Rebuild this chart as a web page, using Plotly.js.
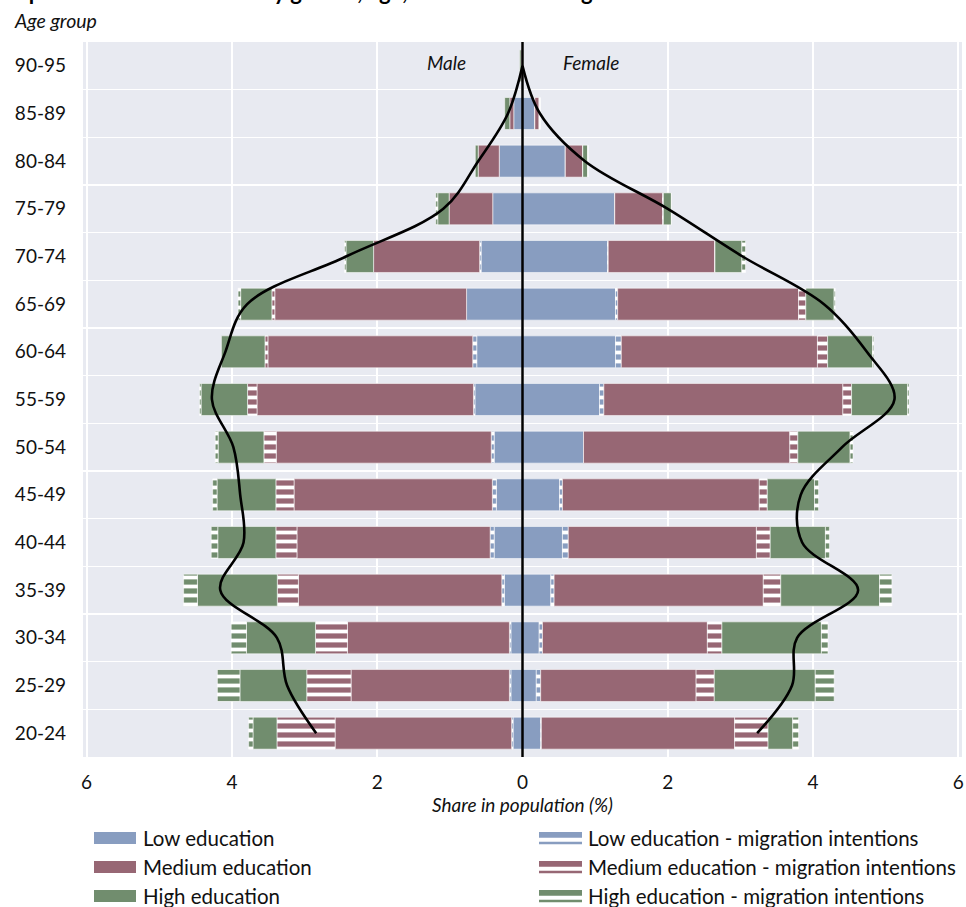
<!DOCTYPE html>
<html>
<head>
<meta charset="utf-8">
<script src="https://cdn.plot.ly/plotly-3.0.1.min.js"></script>
<style>html,body{margin:0;padding:0;background:#fff;}#chart{width:966px;height:907px;}</style>
</head>
<body>
<div id="chart"></div>
<script>
// ---- Data (bottom to top) ----
const ages = ['20-24','25-29','30-34','35-39','40-44','45-49','50-54','55-59','60-64','65-69','70-74','75-79','80-84','85-89','90-95'];

const maleLow     = [0.13, 0.16, 0.16, 0.25, 0.39, 0.36, 0.39, 0.655, 0.63, 0.77, 0.57, 0.41, 0.32, 0.12, 0];
const maleLowMig  = [0.02, 0.02, 0.02, 0.035, 0.055, 0.055, 0.04, 0.02, 0.055, 0, 0.02, 0, 0, 0, 0];
const maleMed     = [2.43, 2.18, 2.23, 2.80, 2.66, 2.73, 2.96, 2.98, 2.82, 2.64, 1.46, 0.60, 0.29, 0.055, 0.02];
const maleMedMig  = [0.80, 0.61, 0.44, 0.29, 0.29, 0.25, 0.17, 0.13, 0.04, 0.04, 0, 0, 0, 0, 0];
const maleHigh    = [0.33, 0.92, 0.95, 1.10, 0.80, 0.81, 0.63, 0.64, 0.60, 0.43, 0.38, 0.157, 0.04, 0.07, 0.02];
const maleHighMig = [0.06, 0.31, 0.21, 0.19, 0.09, 0.06, 0.04, 0.02, 0, 0.035, 0.02, 0.027, 0, 0, 0];

const femaleLow     = [0.25, 0.19, 0.23, 0.39, 0.55, 0.51, 0.84, 1.06, 1.28, 1.28, 1.17, 1.27, 0.59, 0.17, 0];
const femaleLowMig  = [0.01, 0.06, 0.045, 0.045, 0.08, 0.04, 0, 0.06, 0.08, 0.03, 0.01, 0, 0, 0, 0];
const femaleMed     = [2.66, 2.14, 2.27, 2.88, 2.59, 2.71, 2.84, 3.29, 2.70, 2.49, 1.47, 0.66, 0.24, 0.06, 0];
const femaleMedMig  = [0.46, 0.25, 0.20, 0.24, 0.19, 0.11, 0.11, 0.12, 0.14, 0.10, 0, 0.01, 0, 0.01, 0];
const femaleHigh    = [0.34, 1.39, 1.37, 1.36, 0.76, 0.65, 0.72, 0.77, 0.62, 0.39, 0.37, 0.11, 0.07, 0, 0];
const femaleHighMig = [0.08, 0.26, 0.09, 0.17, 0.055, 0.055, 0.04, 0.02, 0.015, 0.015, 0.05, 0, 0, 0, 0];

// comparison population outline
const curveMale   = [2.84, 3.24, 3.38, 4.16, 3.84, 3.886, 3.98, 4.275, 4.09, 3.79, 2.43, 1.09, 0.61, 0.20, 0];
const curveFemale = [3.23, 3.71, 3.78, 4.62, 3.85, 3.83, 4.40, 5.12, 4.74, 4.15, 3.03, 2.0, 0.86, 0.24, 0];

const xTickVals = [-6, -4, -2, 0, 2, 4, 6];
const xTickText = ['6', '4', '2', '0', '2', '4', '6'];

const seriesNames = ['Low education', 'Low education - migration intentions',
                     'Medium education', 'Medium education - migration intentions',
                     'High education', 'High education - migration intentions'];

// ---- Styles ----
const cLow = '#889dc0', cMed = '#976774', cHigh = '#718d6e';
const FONT = 'Lato, "Open Sans", sans-serif';

function barTrace(name, vals, color, striped, sign) {
  const marker = {color: color, line: {color: 'rgba(255,255,255,0.55)', width: 1}};
  if (striped) {
    marker.pattern = {shape: '-', fillmode: 'replace', fgcolor: '#ffffff', bgcolor: color, size: 9, solidity: 0.42};
  }
  return {type: 'bar', orientation: 'h', name: name, y: ages, x: vals.map(v => sign * v),
          marker: marker, showlegend: false, hoverinfo: 'skip'};
}

const series = [
  [maleLow, femaleLow, cLow, false],
  [maleLowMig, femaleLowMig, cLow, true],
  [maleMed, femaleMed, cMed, false],
  [maleMedMig, femaleMedMig, cMed, true],
  [maleHigh, femaleHigh, cHigh, false],
  [maleHighMig, femaleHighMig, cHigh, true]
];

const traces = [];
series.forEach((s, i) => {
  traces.push(barTrace(seriesNames[i] + ' (male)', s[0], s[2], s[3], -1));
  traces.push(barTrace(seriesNames[i] + ' (female)', s[1], s[2], s[3], 1));
});
traces.push({type: 'scatter', mode: 'lines', y: ages, x: curveMale.map(v => -v),
  line: {color: '#000', width: 2.6, shape: 'spline', smoothing: 1}, showlegend: false, hoverinfo: 'skip'});
traces.push({type: 'scatter', mode: 'lines', y: ages, x: curveFemale,
  line: {color: '#000', width: 2.6, shape: 'spline', smoothing: 1}, showlegend: false, hoverinfo: 'skip'});

// ---- Layout / custom legend ----
const W = 966, H = 907, L = 83, R = 4, T = 42, B = 150;
const PW = W - L - R, PH = H - T - B;
const px = x => (x - L) / PW;
const py = y => (H - B - y) / PH;

const shapes = [], annotations = [];
// solid zero line on top of the bars
shapes.push({type: 'line', xref: 'x', yref: 'paper', x0: 0, x1: 0, y0: 0, y1: 1,
  line: {color: '#000', width: 2.5}, layer: 'above'});

const legendCols = [{sx: 94, tx: 141}, {sx: 539, tx: 586}];
const legendRowsTop = [832, 861, 890];
const legendColors = [cLow, cMed, cHigh];
legendRowsTop.forEach((top, r) => {
  [0, 1].forEach(c => {
    const col = legendCols[c];
    const color = legendColors[r];
    if (c === 0) {
      shapes.push({type: 'rect', xref: 'paper', yref: 'paper', x0: px(col.sx), x1: px(col.sx + 42),
        y0: py(top), y1: py(top + 12), fillcolor: color, line: {width: 0}});
    } else {
      shapes.push({type: 'rect', xref: 'paper', yref: 'paper', x0: px(col.sx), x1: px(col.sx + 43),
        y0: py(top), y1: py(top + 5.7), fillcolor: color, line: {width: 0}});
      shapes.push({type: 'rect', xref: 'paper', yref: 'paper', x0: px(col.sx), x1: px(col.sx + 43),
        y0: py(top + 9.7), y1: py(top + 12.3), fillcolor: color, line: {width: 0}});
    }
    annotations.push({xref: 'paper', yref: 'paper', x: px(col.tx), y: py(top + 6),
      xanchor: 'left', yanchor: 'middle', showarrow: false, text: seriesNames[r * 2 + c],
      font: {family: FONT, size: 20.5, color: '#111'}});
  });
});

annotations.push({xref: 'x', yref: 'paper', x: -1.04, y: py(62), text: 'Male', showarrow: false,
  xanchor: 'center', yanchor: 'middle', font: {family: FONT, size: 19, style: 'italic', color: '#111'}});
annotations.push({xref: 'x', yref: 'paper', x: 0.94, y: py(62), text: 'Female', showarrow: false,
  xanchor: 'center', yanchor: 'middle', font: {family: FONT, size: 19, style: 'italic', color: '#111'}});
annotations.push({xref: 'paper', yref: 'paper', x: px(12), y: py(20), text: 'Age group', showarrow: false,
  xanchor: 'left', yanchor: 'middle', font: {family: FONT, size: 19.5, style: 'italic', color: '#111'}});

const layout = {
  width: W, height: H,
  margin: {l: L, r: R, t: T, b: B, pad: 0},
  paper_bgcolor: '#ffffff', plot_bgcolor: '#e8eaf1',
  font: {family: FONT, color: '#111'},
  title: {text: 'Population characteristics by gender, age, education and migration intentions',
    font: {family: FONT, size: 22, weight: 'bold', color: '#000'},
    x: 0.003, xanchor: 'left', xref: 'container', y: 0.9995, yanchor: 'bottom', yref: 'container'},
  barmode: 'relative', bargap: 0.33,
  xaxis: {range: [-6.05, 6.05], tickvals: xTickVals, ticktext: xTickText, showgrid: true,
    gridcolor: '#ffffff', gridwidth: 2.2, zeroline: false,
    ticks: '', tickfont: {family: FONT, size: 19, color: '#111'}, ticklabelstandoff: 12,
    fixedrange: true,
    title: {text: 'Share in population (%)', standoff: 6, font: {family: FONT, size: 19, style: 'italic', color: '#111'}}},
  yaxis: {type: 'category', categoryorder: 'array', categoryarray: ages, range: [-0.5, 14.5],
    tickson: 'boundaries', showgrid: true, gridcolor: '#ffffff', gridwidth: 1.5, zeroline: false,
    ticks: '', ticklen: 0, tickfont: {family: FONT, size: 19, color: '#111'}, ticklabelstandoff: 16,
    fixedrange: true},
  shapes: shapes,
  annotations: annotations,
  showlegend: false
};

Plotly.newPlot('chart', traces, layout, {displayModeBar: false, staticPlot: true});
</script>
</body>
</html>
